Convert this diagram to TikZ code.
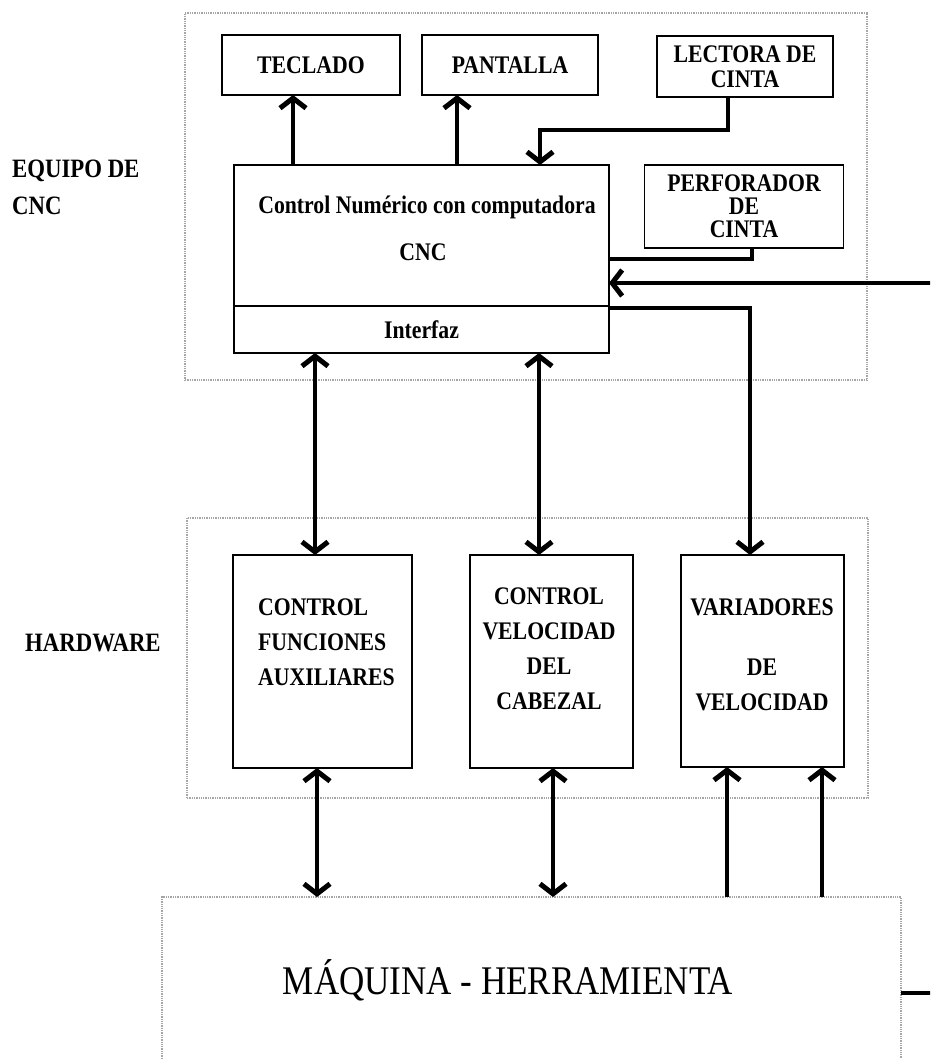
\documentclass[tikz,border=0pt]{standalone}
\usepackage{fontspec}
\setmainfont{Liberation Serif}[FakeStretch=0.86]
\usetikzlibrary{arrows.meta}

\begin{document}
\begin{tikzpicture}[x=1pt, y=-1pt,
        >={Straight Barb[length=10pt, width=26pt, line width=5pt]}, % open barb heads
        blk/.style={draw, line width=1.8pt, rectangle, inner sep=0pt, outer sep=0pt, align=center, font=\bfseries\fontsize{25.3}{25}\selectfont},
        group/.style={draw=gray!70, densely dotted, line width=1.3pt, rectangle, inner sep=0pt, outer sep=0pt},
        txt/.style={inner sep=0pt, font=\bfseries\fontsize{25.3}{35}\selectfont},
        side/.style={inner sep=0pt, align=left, anchor=west, font=\bfseries\fontsize{26.5}{37}\selectfont},
        flow/.style={line width=3.5pt}
    ]
    \clip (0,0) rectangle (930,1059);

    % --- Dotted groups ---
    \node[group, minimum width=682, minimum height=367] (gcnc) at (526,196.5) {};
    \node[group, minimum width=681, minimum height=280] (ghw) at (527.5,658) {};
    \node[group, minimum width=739, minimum height=183] (maq) at (531.5,988.5) {};

    % --- Side labels ---
    \node[side] (lcnc) at (12,187) {EQUIPO DE\\CNC};
    \node[side] (lhw) at (25,643) {HARDWARE};

    % --- CNC equipment ---
    \node[blk, minimum width=178, minimum height=60] (tecl) at (311,65) {TECLADO};
    \node[blk, minimum width=176, minimum height=60] (pant) at (510,65) {PANTALLA};
    \node[blk, minimum width=176, minimum height=61] (lect) at (745,66.5) {LECTORA DE\\CINTA};
    \node[blk, minimum width=199, minimum height=83, font=\bfseries\fontsize{25.3}{23}\selectfont] (perf) at (744,206.5) {PERFORADOR\\DE\\CINTA};
    \node[blk, minimum width=375, minimum height=141] (cnc) at (421.5,235.5) {};
    \node[blk, minimum width=375, minimum height=47] (intf) at (421.5,329.5) {Interfaz};
    \node[txt] (cnctxt) at (427,207) {Control Numérico con computadora};
    \node[txt] (cncname) at (423,252) {CNC};

    % --- Hardware ---
    \node[blk, minimum width=179, minimum height=213] (aux) at (322.5,661.5) {};
    \node[blk, minimum width=163, minimum height=213] (vel) at (551.5,661.5) {};
    \node[blk, minimum width=163, minimum height=212] (var) at (762.5,661) {};
    \node[txt, align=left, anchor=west] (auxtxt) at (258,642) {CONTROL\\FUNCIONES\\AUXILIARES};
    \node[txt, align=center] (veltxt) at (549,649) {CONTROL\\VELOCIDAD\\DEL\\CABEZAL};
    \node[txt, align=center] (vartxt) at (762,655) {VARIADORES\\[25pt]DE\\VELOCIDAD};

    % --- Machine ---
    \node[inner sep=0pt, font=\fontsize{40.7}{45}\selectfont] (maqtxt) at (508,980) {MÁQUINA - HERRAMIENTA};

    % --- Free ends at the right edge ---
    \coordinate (ext) at (940,283);
    \coordinate (ret) at (940,993);

    % --- Connectors inside CNC equipment ---
    \draw[flow, ->] (293,0 |- cnc.north) -- (293,0 |- tecl.south);
    \draw[flow, ->] (457,0 |- cnc.north) -- (457,0 |- pant.south);
    \draw[flow, ->] (728,0 |- lect.south) |- (540,130) -- (540,0 |- cnc.north);
    \draw[flow] (752,0 |- perf.south) |- (cnc.east |- 0,259);
    \draw[flow, ->] (ext) -- (cnc.east |- ext);
    \draw[flow, ->] (intf.east |- 0,308) -| (var.north -| 750,0);

    % --- Interfaz to hardware ---
    \draw[flow, <->] (intf.south -| 315,0) -- (aux.north -| 315,0);
    \draw[flow, <->] (intf.south -| 539,0) -- (vel.north -| 539,0);

    % --- Hardware to machine ---
    \draw[flow, <->] (aux.south -| 317,0) -- (maq.north -| 317,0);
    \draw[flow, <->] (vel.south -| 553,0) -- (maq.north -| 553,0);
    \draw[flow, ->] (maq.north -| 727,0) -- (var.south -| 727,0);
    \draw[flow, ->] (maq.north -| 822,0) -- (var.south -| 822,0);
    \draw[flow] (maq.east |- ret) -- (ret);

\end{tikzpicture}
\end{document}
